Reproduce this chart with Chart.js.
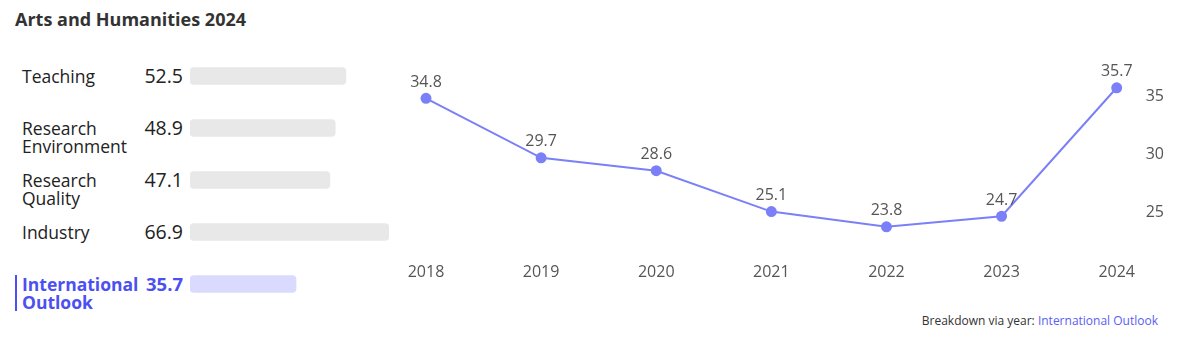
<!DOCTYPE html>
<html>
<head>
<meta charset="utf-8">
<script src="https://cdn.jsdelivr.net/npm/chart.js@4"></script>
<style>
  body { margin: 0; width: 1187px; height: 344px; background: #fff; font-family: "Open Sans", sans-serif; position: relative; overflow: hidden; }
  #title { position: absolute; left: 15px; top: 7px; font-size: 18px; font-weight: 700; color: #333; }
  .row { position: absolute; left: 15px; width: 170px; }
  .row .name { position: absolute; left: 7px; font-size: 17.5px; line-height: 18px; color: #222; }
  .row .val { position: absolute; right: 2px; font-size: 19.5px; line-height: 18px; color: #222; }
  .row.active { border-left: 2px solid #4c50f2; }
  .row.active .name { left: 5px; }
  .row.active .val { right: 4px; font-size: 18.5px; }
  .row.active .name, .row.active .val { color: #4c50f2; font-weight: 700; }
  #bars { position: absolute; left: 190px; top: 50px; }
  #line { position: absolute; left: 380px; top: 34px; }
  #foot { position: absolute; right: 29px; top: 312px; font-size: 12px; color: #333; }
  #foot span { color: #5a5ef2; }
</style>
</head>
<body>
<div id="title">Arts and Humanities 2024</div>
<div id="rows"></div>
<canvas id="bars" width="297" height="260"></canvas>
<canvas id="line" width="830" height="263"></canvas>
<div id="foot">Breakdown via year: <span>International Outlook</span></div>
<script>
var metrics = [['Teaching'], ['Research', 'Environment'], ['Research', 'Quality'], ['Industry'], ['International', 'Outlook']];
var scores = [52.5, 48.9, 47.1, 66.9, 35.7];
var activeMetric = 4;

var years = ['2018', '2019', '2020', '2021', '2022', '2023', '2024'];
var outlook = [34.8, 29.7, 28.6, 25.1, 23.8, 24.7, 35.7];
var yTicks = [25, 30, 35];

// left side labels
var rows = document.getElementById('rows');
for (var i = 0; i < metrics.length; i++) {
  var r = document.createElement('div');
  r.className = 'row' + (i == activeMetric ? ' active' : '');
  var rowTop = 50 + 26 + i * 52 - 9;
  r.style.top = rowTop + 'px';
  r.style.height = (metrics[i].length * 18) + 'px';
  r.innerHTML = '<div class="name">' + metrics[i].join('<br>') + '</div><div class="val">' + scores[i].toFixed(1) + '</div>';
  rows.appendChild(r);
}

Chart.defaults.font.family = '"Open Sans", sans-serif';

new Chart(document.getElementById('bars'), {
  type: 'bar',
  data: {
    labels: metrics.map(function(m){ return m.join(' '); }),
    datasets: [{
      data: scores,
      backgroundColor: scores.map(function(v, i){ return i == activeMetric ? '#d9dafd' : '#e8e8e8'; }),
      barThickness: 17,
      borderRadius: 4,
      borderSkipped: false
    }]
  },
  options: {
    indexAxis: 'y',
    responsive: false,
    animation: false,
    events: [],
    layout: { padding: 0 },
    plugins: { legend: { display: false }, tooltip: { enabled: false } },
    scales: {
      x: { display: false, min: 0, max: 100 },
      y: { display: false }
    }
  }
});

var pointLabels = {
  id: 'pointLabels',
  afterDatasetsDraw: function(chart) {
    var ctx = chart.ctx;
    var meta = chart.getDatasetMeta(0);
    ctx.save();
    ctx.font = '16px "Open Sans", sans-serif';
    ctx.fillStyle = '#555';
    ctx.textAlign = 'center';
    ctx.textBaseline = 'bottom';
    meta.data.forEach(function(pt, i) {
      ctx.fillText(outlook[i].toFixed(1), pt.x, pt.y - 8);
    });
    ctx.restore();
  }
};

new Chart(document.getElementById('line'), {
  type: 'line',
  data: {
    labels: years,
    datasets: [{
      data: outlook,
      borderColor: '#7b80f8',
      backgroundColor: '#7b80f8',
      borderWidth: 2,
      pointRadius: 4.5,
      tension: 0
    }]
  },
  options: {
    responsive: false,
    animation: false,
    events: [],
    layout: { padding: { left: 46, top: 30, right: 17, bottom: 0 } },
    plugins: { legend: { display: false }, tooltip: { enabled: false } },
    scales: {
      x: {
        grid: { display: false, drawTicks: false },
        border: { display: false },
        ticks: { color: '#555', font: { size: 16 }, padding: 15 }
      },
      y: {
        position: 'right',
        min: 22, max: 37,
        afterBuildTicks: function(scale) { scale.ticks = yTicks.map(function(v){ return { value: v }; }); },
        grid: { display: false, drawTicks: false },
        border: { display: false },
        ticks: { color: '#555', font: { size: 16 }, padding: 29 }
      }
    }
  },
  plugins: [pointLabels]
});
</script>
</body>
</html>
